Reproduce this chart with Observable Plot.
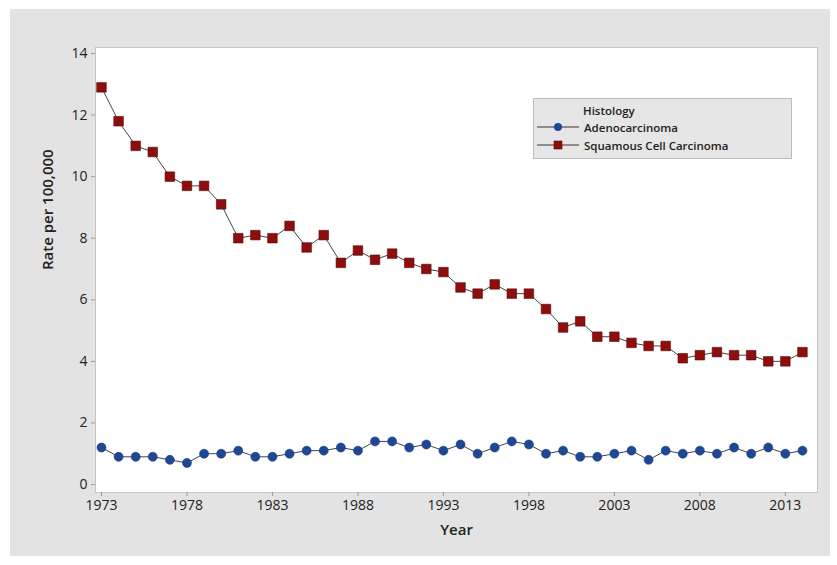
<!DOCTYPE html>
<html>
<head>
<meta charset="utf-8">
<script src="https://cdn.jsdelivr.net/npm/d3@7"></script>
<script src="https://cdn.jsdelivr.net/npm/@observablehq/plot@0.6"></script>
<style>
  html, body { margin: 0; padding: 0; background: #fff; }
  #wrap { position: relative; width: 837px; height: 565px; overflow: hidden; font-family: "Open Sans", sans-serif; }
  #panel { position: absolute; left: 10px; top: 9px; width: 820px; height: 547px; background: #e3e3e3; }
  #chart { position: absolute; left: 0; top: 0; }
  #legend { position: absolute; left: 533px; top: 98px; width: 259px; height: 61px; background: #e6e6e6; border: 1px solid #bdbdbd; box-sizing: border-box; font-size: 11.5px; color: #222; font-weight: 600; }
  #legend .title { position: absolute; left: 49px; top: 4px; }
  #legend .row { position: absolute; left: 3px; height: 16px; display: flex; align-items: center; }
  #legend .row span { margin-left: 5px; }
</style>
</head>
<body>
<div id="wrap">
  <div id="panel"></div>
  <div id="chart"></div>
  <div id="legend">
    <div class="title">Histology</div>
    <div class="row" style="top:20px"><svg width="42" height="12"><line x1="0" x2="42" y1="6" y2="6" stroke="#333" stroke-width="1"/><circle cx="21" cy="6" r="3.7" fill="#1c4896" stroke="#16397a" stroke-width="0.6"/></svg><span>Adenocarcinoma</span></div>
    <div class="row" style="top:38px"><svg width="42" height="12"><line x1="0" x2="42" y1="6" y2="6" stroke="#333" stroke-width="1"/><rect x="17" y="2" width="8" height="8" fill="#8e0e0e" stroke="#5a0808" stroke-width="0.6"/></svg><span>Squamous Cell Carcinoma</span></div>
  </div>
</div>
<script>
const years = d3.range(1973, 2015);
const adeno = [1.2,0.9,0.9,0.9,0.8,0.7,1.0,1.0,1.1,0.9,0.9,1.0,1.1,1.1,1.2,1.1,1.4,1.4,1.2,1.3,1.1,1.3,1.0,1.2,1.4,1.3,1.0,1.1,0.9,0.9,1.0,1.1,0.8,1.1,1.0,1.1,1.0,1.2,1.0,1.2,1.0,1.1];
const squamous = [12.9,11.8,11.0,10.8,10.0,9.7,9.7,9.1,8.0,8.1,8.0,8.4,7.7,8.1,7.2,7.6,7.3,7.5,7.2,7.0,6.9,6.4,6.2,6.5,6.2,6.2,5.7,5.1,5.3,4.8,4.8,4.6,4.5,4.5,4.1,4.2,4.3,4.2,4.2,4.0,4.0,4.3];
const xTicks = [1973,1978,1983,1988,1993,1998,2003,2008,2013];
const yTicks = [0,2,4,6,8,10,12,14];

const adenoData = years.map((y, i) => ({year: y, rate: adeno[i]}));
const squamousData = years.map((y, i) => ({year: y, rate: squamous[i]}));

const chart = Plot.plot({
  width: 837,
  height: 565,
  marginLeft: 95,
  marginRight: 20,
  marginTop: 47,
  marginBottom: 73,
  style: { background: "transparent", fontFamily: "Open Sans, sans-serif", fontSize: "14px", color: "#222" },
  x: { domain: [1972.65, 2014.88] },
  y: { domain: [-0.26, 14.195] },
  marks: [
    Plot.frame({ fill: "white", stroke: "#c4c4c4" }),
    Plot.axisX({ ticks: xTicks, tickFormat: "d", tickSize: 4, tickPadding: 4, stroke: "#999", label: null, fontSize: 14 }),
    Plot.axisY({ ticks: yTicks, tickSize: 4, tickPadding: 4, stroke: "#999", label: null, fontSize: 14 }),
    Plot.text(["Year"], { frameAnchor: "bottom", dy: 42, fontSize: 15, fontWeight: 600, fill: "#222" }),
    Plot.text(["Rate per 100,000"], { frameAnchor: "left", dx: -47, rotate: -90, fontSize: 15, fontWeight: 600, fill: "#222" }),
    Plot.line(squamousData, { x: "year", y: "rate", stroke: "#444", strokeWidth: 1 }),
    Plot.line(adenoData, { x: "year", y: "rate", stroke: "#444", strokeWidth: 1 }),
    Plot.dot(squamousData, { x: "year", y: "rate", symbol: "square", r: 5.4, fill: "#8e0e0e", stroke: "#5a0808", strokeWidth: 0.6 }),
    Plot.dot(adenoData, { x: "year", y: "rate", symbol: "circle", r: 4.5, fill: "#1c4896", stroke: "#16397a", strokeWidth: 0.6 })
  ]
});
document.getElementById("chart").appendChild(chart);
</script>
</body>
</html>
